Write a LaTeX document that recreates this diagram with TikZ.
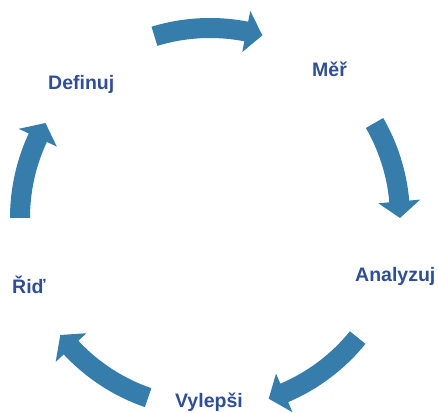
\documentclass[tikz,border=0pt]{standalone}
\usepackage{fontspec}
\setmainfont{Liberation Sans}
\definecolor{arrowblue}{RGB}{54,125,172}
\definecolor{labelblue}{RGB}{47,78,150}
\newcommand\cyclearrow[2]{%
  \fill[arrowblue] (#1:200pt) arc[start angle=#1, end angle={#2+5}, radius=200pt]
    -- ({#2+5}:211pt) -- (#2:190pt) -- ({#2+5}:169pt) -- ({#2+5}:180pt)
    arc[start angle={#2+5}, end angle=#1, radius=180pt] -- cycle;}
\begin{document}
\begin{tikzpicture}[x=1pt,y=1pt,
  lbl/.style={anchor=base west, inner sep=0pt, text=labelblue,
    font=\fontsize{19.5}{22}\selectfont\bfseries}]
\useasboundingbox (0,0) rectangle (438,412);
\clip (0,0) rectangle (438,412);
\begin{scope}[shift={(210,194)}]
  \cyclearrow{107}{74}
  \cyclearrow{30}{0}
  \cyclearrow{-39}{-72}
  \cyclearrow{-109}{-142}
  \cyclearrow{180}{150}
\end{scope}
\node[lbl] (definuj) at (48,322) {Definuj};
\node[lbl] (mer) at (312,335) {Měř};
\node[lbl] (analyzuj) at (355,131) {Analyzuj};
\node[lbl] (vylepsi) at (175,5) {Vylepši};
\node[lbl] (rid) at (12,118) {Řiď};
\end{tikzpicture}
\end{document}
